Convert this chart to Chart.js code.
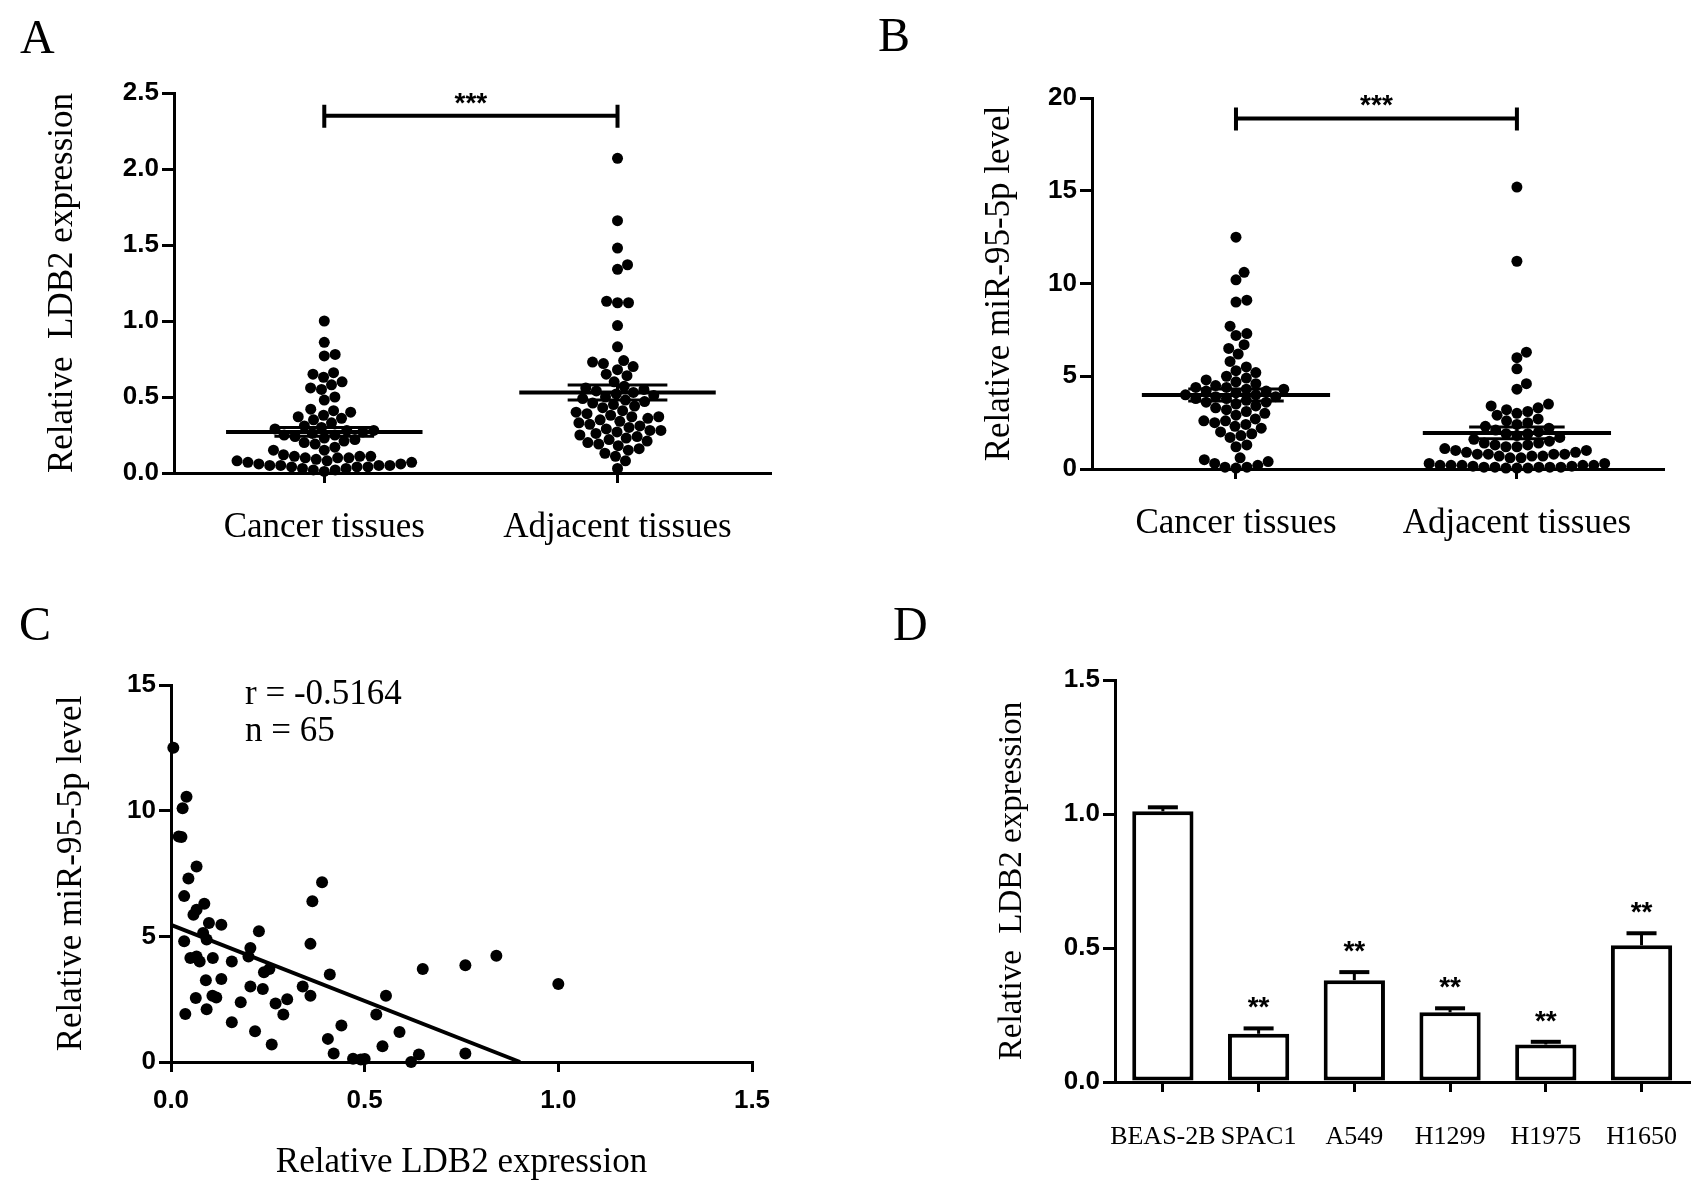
<!DOCTYPE html>
<html>
<head>
<meta charset="utf-8">
<script src="https://cdn.jsdelivr.net/npm/chart.js@4.4.0/dist/chart.umd.min.js"></script>
<style>
  body { margin: 0; background: #fff; width: 1708px; height: 1186px; position: relative; overflow: hidden; }
  canvas { position: absolute; left: 0; top: 0; }
  .txt { position: absolute; font-family: 'Liberation Serif', 'Times New Roman', serif; color: #000; line-height: 1; white-space: nowrap; }
  .panel { font-size: 48px; }
  .note { font-size: 35px; }
</style>
</head>
<body>
<canvas id="chartA" width="1708" height="1186"></canvas>
<canvas id="chartB" width="1708" height="1186"></canvas>
<canvas id="chartC" width="1708" height="1186"></canvas>
<canvas id="chartD" width="1708" height="1186"></canvas>

<div class="txt panel" style="left:20px; top:13px;">A</div>
<div class="txt panel" style="left:878px; top:11px;">B</div>
<div class="txt panel" style="left:19px; top:600px;">C</div>
<div class="txt panel" style="left:893px; top:600px;">D</div>
<div class="txt note" style="left:245px; top:675px;">r = -0.5164</div>
<div class="txt note" style="left:245px; top:712px;">n = 65</div>

<script>
// groups of panels A and B
var groupNames = ['Cancer tissues', 'Adjacent tissues'];

// A: relative LDB2 expression
var ldb2Cancer = [1.00, 0.86, 0.78, 0.77, 0.66, 0.65, 0.63, 0.60, 0.58, 0.56, 0.55, 0.50, 0.48,
  0.42, 0.41, 0.40, 0.38, 0.37, 0.36, 0.35, 0.33, 0.31, 0.30, 0.29, 0.28, 0.28, 0.27, 0.26,
  0.25, 0.25, 0.24, 0.23, 0.22, 0.21, 0.20, 0.19, 0.17, 0.15, 0.15, 0.12, 0.11, 0.11, 0.11,
  0.10, 0.10, 0.10, 0.09, 0.08, 0.08, 0.07, 0.07, 0.06, 0.06, 0.05, 0.05, 0.05, 0.05, 0.04,
  0.04, 0.04, 0.03, 0.03, 0.02, 0.02, 0.01];
var ldb2Adjacent = [2.07, 1.66, 1.48, 1.37, 1.34, 1.13, 1.12, 1.12, 0.97, 0.83, 0.74, 0.73, 0.72,
  0.70, 0.68, 0.65, 0.64, 0.60, 0.57, 0.56, 0.55, 0.54, 0.53, 0.52, 0.51, 0.50, 0.49, 0.48,
  0.47, 0.46, 0.45, 0.44, 0.43, 0.41, 0.40, 0.39, 0.38, 0.37, 0.37, 0.36, 0.35, 0.34, 0.33,
  0.32, 0.31, 0.30, 0.29, 0.28, 0.28, 0.27, 0.26, 0.25, 0.24, 0.23, 0.22, 0.21, 0.20, 0.19,
  0.18, 0.16, 0.15, 0.13, 0.11, 0.08, 0.03];

// B: relative miR-95-5p level
var mirCancer = [12.5, 10.6, 10.2, 9.1, 9.0, 7.7, 7.3, 7.2, 6.7, 6.5, 6.2, 5.8, 5.5, 5.3, 5.2,
  5.0, 4.9, 4.8, 4.7, 4.5, 4.4, 4.3, 4.3, 4.2, 4.1, 4.0, 4.0, 3.9, 3.9, 3.8, 3.7, 3.6, 3.5,
  3.4, 3.3, 3.2, 3.1, 3.0, 2.9, 2.7, 2.6, 2.6, 2.5, 2.4, 2.3, 2.2, 2.0, 1.9, 1.8, 1.7, 4.6,
  4.4, 4.2, 3.8, 3.6, 1.3, 1.2, 0.6, 0.5, 0.4, 0.3, 0.2, 0.1, 0.1, 0.05];
var mirAdjacent = [15.2, 11.2, 6.3, 6.0, 5.4, 4.6, 4.3, 3.5, 3.4, 3.3, 3.2, 3.1, 3.0, 2.9, 2.7,
  2.6, 2.5, 2.4, 2.3, 2.2, 2.1, 2.0, 1.9, 1.9, 1.8, 1.7, 1.6, 1.5, 1.4, 1.3, 1.2, 1.1, 1.0,
  0.9, 0.8, 0.8, 0.7, 0.7, 0.6, 0.6, 1.4, 1.3, 1.2, 1.0, 0.9, 0.8, 0.8, 0.7, 0.3, 0.3, 0.2,
  0.2, 0.2, 0.2, 0.2, 0.15, 0.15, 0.1, 0.1, 0.1, 0.1, 0.1, 0.05, 0.05, 0.05];

// significance brackets (y value of the bar)
var sigLevelA = 2.35;
var sigLevelB = 18.9;

// C: correlation, LDB2 (x) vs miR-95-5p (y), n = 65
var corrLdb2 = [0.006, 0.04, 0.03, 0.02, 0.027, 0.066, 0.045, 0.39, 0.034, 0.086, 0.365, 0.066,
  0.058, 0.098, 0.13, 0.227, 0.034, 0.083, 0.092, 0.36, 0.205, 0.05, 0.066, 0.074, 0.108, 0.157,
  0.2, 0.84, 0.76, 0.65, 0.41, 0.24, 0.254, 0.09, 0.13, 1.0, 0.205, 0.237, 0.34, 0.36, 0.064,
  0.107, 0.117, 0.18, 0.27, 0.30, 0.555, 0.037, 0.092, 0.29, 0.53, 0.157, 0.44, 0.217, 0.59,
  0.405, 0.26, 0.546, 0.42, 0.64, 0.76, 0.47, 0.49, 0.62, 0.5];
var corrMir = [12.5, 10.55, 10.1, 8.97, 8.95, 7.78, 7.3, 7.15, 6.6, 6.3, 6.4, 6.06, 5.86, 5.53,
  5.46, 5.2, 4.8, 5.13, 4.87, 4.7, 4.54, 4.14, 4.2, 4.0, 4.14, 4.0, 4.2, 4.23, 3.85, 3.7, 3.48,
  3.57, 3.7, 3.25, 3.3, 3.1, 3.0, 2.9, 3.0, 2.64, 2.55, 2.64, 2.57, 2.38, 2.33, 2.5, 2.64, 1.91,
  2.1, 1.89, 1.89, 1.58, 1.45, 1.22, 1.19, 0.92, 0.7, 0.63, 0.34, 0.3, 0.34, 0.13, 0.1, 0.0, 0.12];

// D: cell lines
var cellLines = ['BEAS-2B', 'SPAC1', 'A549', 'H1299', 'H1975', 'H1650'];
var cellLdb2 = [1.01, 0.18, 0.38, 0.26, 0.14, 0.51];
var cellLdb2Err = [0.015, 0.02, 0.03, 0.015, 0.01, 0.045];
var cellStars = ['', '**', '**', '**', '**', '**'];

var serif = "'Liberation Serif', 'Times New Roman', serif";
var sans = "'Liberation Sans', Arial, sans-serif";
var W = 1708, H = 1186;

// panel frames in page pixels
var geoA = {left: 174, right: 770, top: 93, bottom: 473, xMin: 0.4875, xMax: 2.52, yMax: 2.5};
var geoB = {left: 1092, right: 1663, top: 98, bottom: 469, xMin: 0.4875, xMax: 2.52, yMax: 20};
var geoC = {left: 171, right: 752, top: 685, bottom: 1062, xMin: 0, xMax: 1.5, yMax: 15};
var geoD = {left: 1115, right: 1695, top: 680, bottom: 1082, yMax: 1.5};

function mean(a) { return a.reduce(function (s, v) { return s + v; }, 0) / a.length; }
function sem(a) {
  var m = mean(a);
  var ss = a.reduce(function (s, v) { return s + (v - m) * (v - m); }, 0);
  return Math.sqrt(ss / (a.length - 1)) / Math.sqrt(a.length);
}

// simple beeswarm: spread close values sideways so dots don't overlap
function swarm(vals, pxX, pxY, d) {
  var placed = [];
  var out = new Array(vals.length);
  var order = vals.map(function (v, i) { return i; }).sort(function (a, b) { return vals[a] - vals[b]; });
  order.forEach(function (i) {
    var y = vals[i] * pxY;
    var cands = [0];
    placed.forEach(function (p) {
      var dy = y - p.y;
      if (Math.abs(dy) < d) {
        var dx = Math.sqrt(d * d - dy * dy);
        cands.push(p.x + dx, p.x - dx);
      }
    });
    cands.sort(function (a, b) { return Math.abs(a) - Math.abs(b); });
    var x = cands.find(function (cx) {
      return placed.every(function (p) { return (cx - p.x) * (cx - p.x) + (y - p.y) * (y - p.y) >= d * d - 0.01; });
    });
    placed.push({x: x, y: y});
    out[i] = x / pxX;
  });
  return out;
}

function seg(x1, y1, x2, y2, w) {
  return {data: [{x: x1, y: y1}, {x: x2, y: y2}], showLine: true, borderColor: '#000',
    borderWidth: w, pointRadius: 0, clip: false, borderCapStyle: 'butt'};
}

function axisStyle(tickLen) {
  return {
    grid: {drawOnChartArea: false, drawTicks: true, tickLength: tickLen, lineWidth: 3, color: '#000'},
    border: {display: true, color: '#000', width: 3}
  };
}

// bracket with stars over two groups
function bracketPlugin(level, stars) {
  return {
    id: 'bracket',
    afterDatasetsDraw: function (chart) {
      var ctx = chart.ctx, xs = chart.scales.x, ys = chart.scales.y;
      var x1 = xs.getPixelForValue(1), x2 = xs.getPixelForValue(2), y = ys.getPixelForValue(level);
      ctx.save();
      ctx.strokeStyle = '#000';
      ctx.lineWidth = 4;
      ctx.beginPath();
      ctx.moveTo(x1, y); ctx.lineTo(x2, y);
      ctx.moveTo(x1, y - 11); ctx.lineTo(x1, y + 12);
      ctx.moveTo(x2, y - 11); ctx.lineTo(x2, y + 12);
      ctx.stroke();
      ctx.fillStyle = '#000';
      ctx.font = 'bold 28px ' + sans;
      ctx.textAlign = 'center';
      ctx.textBaseline = 'middle';
      ctx.fillText(stars, (x1 + x2) / 2, y - 12);
      ctx.restore();
    }
  };
}

function dotPlot(id, g, groups, step, fmt, yTitle, titleCx, level) {
  var kx = (g.right - g.left) / (g.xMax - g.xMin);
  var ky = (g.bottom - g.top) / g.yMax;
  var datasets = [];
  groups.forEach(function (vals, gi) {
    var cx = gi + 1, m = mean(vals), se = sem(vals);
    datasets.push(seg(cx - 0.335, m, cx + 0.335, m, 4));
    datasets.push(seg(cx - 0.17, m + se, cx + 0.17, m + se, 3));
    datasets.push(seg(cx - 0.17, m - se, cx + 0.17, m - se, 3));
    datasets.push(seg(cx, m - se, cx, m + se, 3));
  });
  groups.forEach(function (vals, gi) {
    var off = swarm(vals, kx, ky, 11);
    datasets.push({
      data: vals.map(function (v, i) { return {x: gi + 1 + off[i], y: v}; }),
      pointRadius: 5.5, pointBackgroundColor: '#000', pointBorderWidth: 0, showLine: false, clip: false
    });
  });
  var padLeft = titleCx - 21;
  var xH = 110;
  var xAxis = Object.assign(axisStyle(10), {
    type: 'linear', min: g.xMin, max: g.xMax,
    afterFit: function (s) { s.height = xH; },
    afterBuildTicks: function (s) { s.ticks = [{value: 1}, {value: 2}]; },
    ticks: {callback: function (v) { return groupNames[v - 1]; }, font: {family: serif, size: 35},
      color: '#000', padding: 24, autoSkip: false, maxRotation: 0}
  });
  var yAxis = Object.assign(axisStyle(12), {
    min: 0, max: g.yMax,
    afterFit: function (s) { s.width = g.left - padLeft; },
    ticks: {stepSize: step, callback: fmt, font: {family: sans, size: 26, weight: 'bold'}, color: '#000', padding: 3},
    title: {display: true, text: yTitle, font: {family: serif, size: 35}, color: '#000', padding: 0}
  });
  return new Chart(document.getElementById(id), {
    type: 'scatter',
    data: {datasets: datasets},
    options: {
      responsive: false, animation: false, devicePixelRatio: 1,
      layout: {padding: {left: padLeft, top: g.top, right: W - g.right, bottom: H - g.bottom - xH}},
      plugins: {legend: {display: false}, tooltip: {enabled: false}},
      scales: {x: xAxis, y: yAxis}
    },
    plugins: [bracketPlugin(level, '***')]
  });
}

dotPlot('chartA', geoA, [ldb2Cancer, ldb2Adjacent], 0.5, function (v) { return v.toFixed(1); },
  'Relative  LDB2 expression', 63, sigLevelA);
dotPlot('chartB', geoB, [mirCancer, mirAdjacent], 5, function (v) { return v; },
  'Relative miR-95-5p level', 1000, sigLevelB);

// C: scatter with least squares line
(function () {
  var g = geoC;
  var mx = mean(corrLdb2), my = mean(corrMir), sxy = 0, sxx = 0;
  corrLdb2.forEach(function (x, i) { sxy += (x - mx) * (corrMir[i] - my); sxx += (x - mx) * (x - mx); });
  var slope = sxy / sxx, icpt = my - slope * mx;
  var xEnd = Math.min(-icpt / slope, g.xMax);
  var padLeft = 72 - 21;
  var xH = 1163 + 21 - g.bottom;
  var xAxis = Object.assign(axisStyle(10), {
    type: 'linear', min: 0, max: g.xMax,
    afterFit: function (s) { s.height = xH; },
    ticks: {stepSize: 0.5, callback: function (v) { return v.toFixed(1); }, font: {family: sans, size: 26, weight: 'bold'},
      color: '#000', padding: 13, autoSkip: false, maxRotation: 0},
    title: {display: true, text: 'Relative LDB2 expression', font: {family: serif, size: 35}, color: '#000', padding: 0}
  });
  var yAxis = Object.assign(axisStyle(12), {
    min: 0, max: g.yMax,
    afterFit: function (s) { s.width = g.left - padLeft; },
    ticks: {stepSize: 5, font: {family: sans, size: 26, weight: 'bold'}, color: '#000', padding: 3},
    title: {display: true, text: 'Relative miR-95-5p level', font: {family: serif, size: 35}, color: '#000', padding: 0}
  });
  new Chart(document.getElementById('chartC'), {
    type: 'scatter',
    data: {datasets: [
      seg(0, icpt, xEnd, icpt + slope * xEnd, 4),
      {data: corrLdb2.map(function (x, i) { return {x: x, y: corrMir[i]}; }),
        pointRadius: 6, pointBackgroundColor: '#000', pointBorderWidth: 0, showLine: false, clip: false}
    ]},
    options: {
      responsive: false, animation: false, devicePixelRatio: 1,
      layout: {padding: {left: padLeft, top: g.top, right: W - g.right, bottom: H - g.bottom - xH}},
      plugins: {legend: {display: false}, tooltip: {enabled: false}},
      scales: {x: xAxis, y: yAxis}
    }
  });
})();

// D: bars with upper error bars and stars
(function () {
  var g = geoD;
  var padLeft = 1013 - 20;
  var xH = 90;
  var errPlugin = {
    id: 'errbars',
    afterDatasetsDraw: function (chart) {
      var ctx = chart.ctx, ys = chart.scales.y;
      var meta = chart.getDatasetMeta(0);
      ctx.save();
      ctx.strokeStyle = '#000';
      ctx.fillStyle = '#000';
      meta.data.forEach(function (bar, i) {
        var top = ys.getPixelForValue(cellLdb2[i] + cellLdb2Err[i]);
        var half = bar.width * 0.245;
        ctx.lineWidth = 3;
        ctx.beginPath(); ctx.moveTo(bar.x, bar.y); ctx.lineTo(bar.x, top); ctx.stroke();
        ctx.lineWidth = 4;
        ctx.beginPath(); ctx.moveTo(bar.x - half, top); ctx.lineTo(bar.x + half, top); ctx.stroke();
        if (cellStars[i]) {
          ctx.font = 'bold 28px ' + sans;
          ctx.textAlign = 'center';
          ctx.textBaseline = 'middle';
          ctx.fillText(cellStars[i], bar.x, top - 20);
        }
      });
      ctx.restore();
    }
  };
  var xAxis = Object.assign(axisStyle(10), {
    offset: true,
    afterFit: function (s) { s.height = xH; },
    ticks: {font: {family: serif, size: 26}, color: '#000', padding: 30, autoSkip: false, maxRotation: 0}
  });
  xAxis.grid.offset = false;
  var yAxis = Object.assign(axisStyle(12), {
    min: 0, max: g.yMax,
    afterFit: function (s) { s.width = g.left - padLeft; },
    ticks: {stepSize: 0.5, callback: function (v) { return v.toFixed(1); }, font: {family: sans, size: 26, weight: 'bold'}, color: '#000', padding: 3},
    title: {display: true, text: 'Relative  LDB2 expression', font: {family: serif, size: 33}, color: '#000', padding: 0}
  });
  new Chart(document.getElementById('chartD'), {
    type: 'bar',
    data: {labels: cellLines, datasets: [{
      data: cellLdb2, backgroundColor: '#fff', borderColor: '#000', borderWidth: 4, borderSkipped: false,
      categoryPercentage: 0.8, barPercentage: 0.8
    }]},
    options: {
      responsive: false, animation: false, devicePixelRatio: 1,
      layout: {padding: {left: padLeft, top: g.top, right: W - g.right, bottom: H - g.bottom - xH}},
      plugins: {legend: {display: false}, tooltip: {enabled: false}},
      scales: {x: xAxis, y: yAxis}
    },
    plugins: [errPlugin]
  });
})();
</script>
</body>
</html>
